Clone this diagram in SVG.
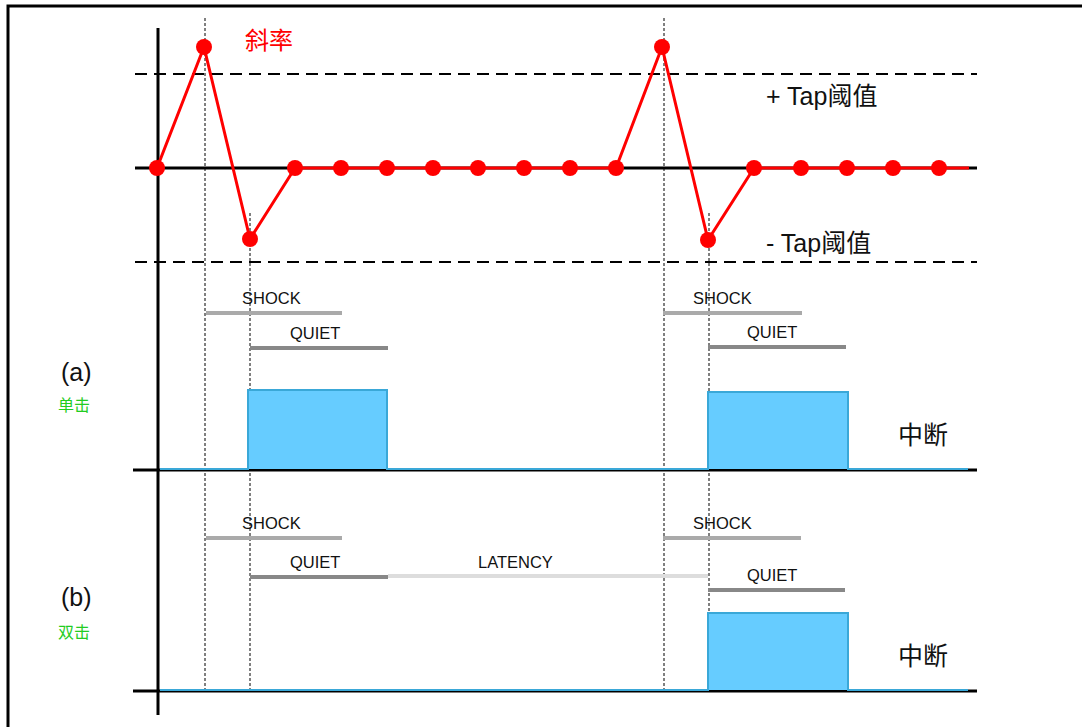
<svg xmlns="http://www.w3.org/2000/svg" width="1082" height="727" viewBox="0 0 1082 727">
<style>
.ax{stroke:#000;stroke-width:3;fill:none}
.dash{stroke:#000;stroke-width:2;stroke-dasharray:12,7;fill:none}
.dot{stroke:#000;stroke-width:1;stroke-dasharray:3,2;fill:none}
.sig{stroke:#ff0000;stroke-width:3;fill:none}
.pt{fill:#ff0000}
.shock{stroke:#aaaaaa;stroke-width:4}
.quiet{stroke:#888888;stroke-width:4}
.lat{stroke:#dddddd;stroke-width:4}
.pulse{fill:#66ccff;stroke:#3aa8d8;stroke-width:2}
.lab{font-family:"Liberation Sans",Arial,sans-serif;font-size:16.5px;fill:#111}
.big{font-family:"Liberation Sans","Noto Sans CJK SC",sans-serif;font-size:25px;fill:#111}
.grn{font-family:"Noto Sans CJK SC",sans-serif;font-size:16px;fill:#22cc22}
</style>
<rect width="1082" height="727" fill="#fff"/>
<path d="M8,727 V6 H1082" stroke="#000" stroke-width="3" fill="none"/>
<g id="axes">
<line class="ax" x1="158" y1="28" x2="158" y2="715"/>
<line class="ax" x1="135" y1="168" x2="977" y2="168"/>
<line class="dash" x1="135" y1="74" x2="977" y2="74"/>
<line class="dash" x1="135" y1="262" x2="977" y2="262"/>
<line class="ax" x1="133" y1="470" x2="977" y2="470"/>
<line class="ax" x1="133" y1="691" x2="977" y2="691"/>
</g>
<g id="guides">
<line class="dot" x1="205" y1="18" x2="205" y2="691"/>
<line class="dot" x1="250" y1="213" x2="250" y2="691"/>
<line class="dot" x1="664" y1="18" x2="664" y2="691"/>
<line class="dot" x1="709" y1="213" x2="709" y2="691"/>
</g>
<g id="slope">
<polyline class="sig" points="157,168 204,47 250,239 295,168 616,168 662,47 708,240 754,168 969,168"/>
<g class="pt">
<circle cx="157" cy="168" r="8"/><circle cx="204" cy="47" r="8"/><circle cx="250" cy="239" r="8"/>
<circle cx="295" cy="168" r="8"/><circle cx="341" cy="168" r="8"/><circle cx="387" cy="168" r="8"/>
<circle cx="433" cy="168" r="8"/><circle cx="478" cy="168" r="8"/><circle cx="524" cy="168" r="8"/>
<circle cx="570" cy="168" r="8"/><circle cx="616" cy="168" r="8"/><circle cx="662" cy="47" r="8"/>
<circle cx="708" cy="240" r="8"/><circle cx="754" cy="168" r="8"/><circle cx="801" cy="168" r="8"/>
<circle cx="847" cy="168" r="8"/><circle cx="893" cy="168" r="8"/><circle cx="939" cy="168" r="8"/>
</g>
<text x="245" y="49" font-family="Noto Sans CJK SC,sans-serif" font-size="24" fill="#ff0000">斜率</text>
<text class="big" x="766" y="105">+ Tap阈值</text>
<text class="big" x="766" y="252">- Tap阈值</text>
</g>
<g id="single">
<text class="big" x="61" y="381">(a)</text>
<text class="grn" x="58" y="411">单击</text>
<line class="shock" x1="206" y1="313" x2="342" y2="313"/>
<text class="lab" x="242" y="304">SHOCK</text>
<line class="quiet" x1="250" y1="348" x2="388" y2="348"/>
<text class="lab" x="290" y="339">QUIET</text>
<line class="shock" x1="663" y1="313" x2="802" y2="313"/>
<text class="lab" x="693" y="304">SHOCK</text>
<line class="quiet" x1="708" y1="347" x2="846" y2="347"/>
<text class="lab" x="747" y="338">QUIET</text>
<path class="pulse" d="M160,469 H248 V390 H387 V469 H708 V392 H848 V469 H968"/>
<text class="big" x="898" y="444">中断</text>
</g>
<g id="double">
<text class="big" x="61" y="606">(b)</text>
<text class="grn" x="58" y="638">双击</text>
<line class="shock" x1="206" y1="538" x2="342" y2="538"/>
<text class="lab" x="242" y="529">SHOCK</text>
<line class="lat" x1="388" y1="576" x2="708" y2="576"/>
<text class="lab" x="478" y="568">LATENCY</text>
<line class="quiet" x1="250" y1="577" x2="388" y2="577"/>
<text class="lab" x="290" y="568">QUIET</text>
<line class="shock" x1="663" y1="538" x2="801" y2="538"/>
<text class="lab" x="693" y="529">SHOCK</text>
<line class="quiet" x1="708" y1="590" x2="845" y2="590"/>
<text class="lab" x="747" y="581">QUIET</text>
<path class="pulse" d="M160,690 H708 V613 H848 V690 H968"/>
<text class="big" x="898" y="665">中断</text>
</g>
</svg>
